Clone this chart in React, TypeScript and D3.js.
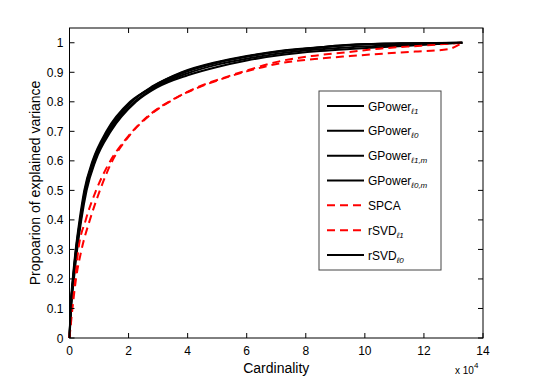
import React, { useEffect, useRef } from 'react';
import * as d3 from 'd3';

// cardinality vs proportion of explained variance
const gpowerL1 = [[0, 0], [400, 0.1], [1200, 0.2], [2200, 0.3], [3600, 0.4], [5200, 0.5], [8000, 0.6], [13000, 0.7], [21000, 0.8], [28000, 0.85], [38000, 0.9], [50000, 0.935], [60000, 0.955], [71000, 0.972], [85000, 0.985], [95000, 0.993], [110000, 0.997], [133000, 1]];
const gpowerL0 = [[0, 0], [350, 0.1], [1100, 0.2], [2100, 0.3], [3400, 0.4], [5000, 0.5], [7800, 0.6], [12500, 0.7], [20500, 0.8], [28500, 0.85], [39000, 0.9], [51000, 0.935], [61000, 0.955], [72000, 0.972], [86000, 0.986], [97000, 0.994], [112000, 0.998], [133000, 1]];
const gpowerL1m = [[0, 0], [550, 0.1], [1500, 0.2], [2600, 0.3], [4000, 0.4], [5800, 0.5], [8800, 0.6], [14000, 0.7], [22500, 0.8], [29500, 0.848], [40000, 0.89], [50000, 0.918], [60000, 0.94], [71000, 0.958], [85000, 0.972], [95000, 0.979], [105000, 0.985], [120000, 0.993], [133000, 1]];
const gpowerL0m = [[0, 0], [450, 0.1], [1300, 0.2], [2400, 0.3], [3800, 0.4], [5400, 0.5], [8300, 0.6], [13600, 0.7], [22000, 0.8], [28800, 0.848], [39500, 0.895], [50000, 0.926], [60000, 0.946], [71000, 0.964], [85000, 0.978], [95000, 0.985], [105000, 0.99], [120000, 0.995], [133000, 1]];
const spca = [[0, 0], [700, 0.1], [1900, 0.2], [3000, 0.3], [5500, 0.4], [9000, 0.5], [13000, 0.585], [20000, 0.685], [27000, 0.755], [35000, 0.808], [44000, 0.85], [50000, 0.872], [60000, 0.903], [71000, 0.93], [83000, 0.945], [95000, 0.955], [106000, 0.963], [117000, 0.97], [128000, 0.978], [133000, 1]];
const rsvdL1 = [[0, 0], [1000, 0.1], [2200, 0.2], [4100, 0.3], [6900, 0.4], [10300, 0.5], [14000, 0.59], [20500, 0.688], [27500, 0.757], [35500, 0.81], [44000, 0.852], [50000, 0.874], [60000, 0.906], [71000, 0.937], [82000, 0.955], [94000, 0.968], [105000, 0.98], [119000, 0.99], [133000, 1]];
const rsvdL0 = [[0, 0], [420, 0.1], [1250, 0.2], [2300, 0.3], [3700, 0.4], [5300, 0.5], [8200, 0.6], [13300, 0.7], [21000, 0.8], [28000, 0.852], [38500, 0.9], [50000, 0.933], [60000, 0.953], [71000, 0.97], [85000, 0.984], [95000, 0.992], [110000, 0.997], [133000, 1]];

const xTicks = [0, 20000, 40000, 60000, 80000, 100000, 120000, 140000];
const yTicks = [0, 0.1, 0.2, 0.3, 0.4, 0.5, 0.6, 0.7, 0.8, 0.9, 1];

const series = [
  { name: 'GPower', sub: 'ℓ1', data: gpowerL1, color: '#000', dash: null },
  { name: 'GPower', sub: 'ℓ0', data: gpowerL0, color: '#000', dash: null },
  { name: 'GPower', sub: 'ℓ1,m', data: gpowerL1m, color: '#000', dash: null },
  { name: 'GPower', sub: 'ℓ0,m', data: gpowerL0m, color: '#000', dash: null },
  { name: 'SPCA', sub: '', data: spca, color: '#ff0000', dash: '8,5' },
  { name: 'rSVD', sub: 'ℓ1', data: rsvdL1, color: '#ff0000', dash: '8,5' },
  { name: 'rSVD', sub: 'ℓ0', data: rsvdL0, color: '#000', dash: null },
];

const font = 'Liberation Sans, Arial, Helvetica, sans-serif';

export default function App() {
  const svgRef = useRef(null);

  useEffect(() => {
    const width = 534;
    const height = 382;
    const margin = { top: 28, right: 51, bottom: 44, left: 69.5 };
    const innerWidth = width - margin.left - margin.right;
    const innerHeight = height - margin.top - margin.bottom;

    const svg = d3.select(svgRef.current);
    svg.selectAll('*').remove();

    svg.append('rect').attr('width', width).attr('height', height).attr('fill', '#fff');

    const g = svg.append('g').attr('transform', `translate(${margin.left},${margin.top})`);

    const x = d3.scaleLinear().domain([0, 140000]).range([0, innerWidth]);
    const y = d3.scaleLinear().domain([0, 1.05]).range([innerHeight, 0]);

    // Lines
    const line = d3.line()
      .x(d => x(d[0]))
      .y(d => y(d[1]))
      .curve(d3.curveMonotoneX);

    series.forEach(s => {
      g.append('path')
        .datum(s.data)
        .attr('fill', 'none')
        .attr('stroke', s.color)
        .attr('stroke-width', 2)
        .attr('stroke-dasharray', s.dash)
        .attr('stroke-linejoin', 'round')
        .attr('d', line);
    });

    // Box
    g.append('rect')
      .attr('width', innerWidth)
      .attr('height', innerHeight)
      .attr('fill', 'none')
      .attr('stroke', '#000')
      .attr('stroke-width', 1);

    // Ticks on all four sides (MATLAB style, inward)
    const tl = 5;
    xTicks.forEach(t => {
      g.append('line').attr('x1', x(t)).attr('x2', x(t)).attr('y1', innerHeight).attr('y2', innerHeight - tl).attr('stroke', '#000');
      g.append('line').attr('x1', x(t)).attr('x2', x(t)).attr('y1', 0).attr('y2', tl).attr('stroke', '#000');
      g.append('text')
        .attr('x', x(t))
        .attr('y', innerHeight + 17)
        .attr('text-anchor', 'middle')
        .attr('font-family', font)
        .attr('font-size', '12px')
        .text(t / 10000);
    });
    yTicks.forEach(t => {
      g.append('line').attr('x1', 0).attr('x2', tl).attr('y1', y(t)).attr('y2', y(t)).attr('stroke', '#000');
      g.append('line').attr('x1', innerWidth).attr('x2', innerWidth - tl).attr('y1', y(t)).attr('y2', y(t)).attr('stroke', '#000');
      g.append('text')
        .attr('x', -6)
        .attr('y', y(t) + 4.5)
        .attr('text-anchor', 'end')
        .attr('font-family', font)
        .attr('font-size', '12px')
        .text(d3.format('~g')(t));
    });

    // Axis labels
    g.append('text')
      .attr('x', innerWidth / 2)
      .attr('y', innerHeight + 35)
      .attr('text-anchor', 'middle')
      .attr('font-family', font)
      .attr('font-size', '14px')
      .text('Cardinality');

    const exp = g.append('text')
      .attr('x', innerWidth - 28)
      .attr('y', innerHeight + 36)
      .attr('font-family', font)
      .attr('font-size', '10px');
    exp.append('tspan').text('x 10');
    exp.append('tspan').attr('dy', -6).attr('font-size', '8px').text('4');

    g.append('text')
      .attr('transform', 'rotate(-90)')
      .attr('x', -innerHeight / 2)
      .attr('y', -30)
      .attr('text-anchor', 'middle')
      .attr('font-family', font)
      .attr('font-size', '14px')
      .text('Propoarion of explained variance');

    // Legend
    const legend = svg.append('g').attr('transform', 'translate(319,91)');
    legend.append('rect')
      .attr('width', 122)
      .attr('height', 179)
      .attr('fill', '#fff')
      .attr('stroke', '#444')
      .attr('stroke-width', 1);

    const rowY = d3.scaleLinear().domain([0, series.length - 1]).range([15, 164]);
    series.forEach((s, i) => {
      const yy = rowY(i);
      legend.append('line')
        .attr('x1', 8).attr('x2', 45)
        .attr('y1', yy).attr('y2', yy)
        .attr('stroke', s.color)
        .attr('stroke-width', 2)
        .attr('stroke-dasharray', s.dash);
      const txt = legend.append('text')
        .attr('x', 49)
        .attr('y', yy + 4.5)
        .attr('font-family', font)
        .attr('font-size', '12px')
        .text(s.name);
      if (s.sub) {
        txt.append('tspan')
          .attr('dy', 3)
          .attr('font-size', '8px')
          .attr('font-style', 'italic')
          .text(s.sub);
      }
    });
  }, []);

  return <svg ref={svgRef} width={534} height={382} style={{ position: 'absolute', left: 0, top: 0 }}></svg>;
}
